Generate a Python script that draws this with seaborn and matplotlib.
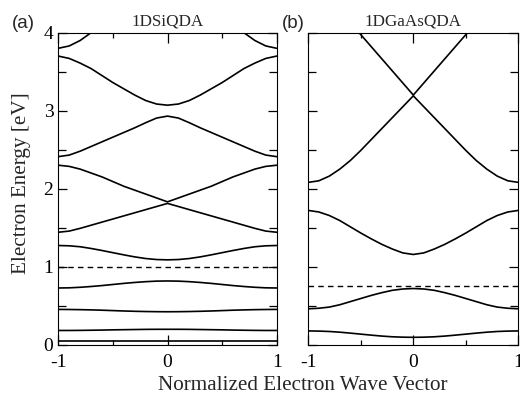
import numpy as np
import pandas as pd
import matplotlib
matplotlib.use("Agg")
import matplotlib.pyplot as plt
import seaborn as sns
from matplotlib.ticker import MultipleLocator

# ---------------- data ----------------
K = [-1.0, -0.9, -0.8, -0.7, -0.6, -0.5, -0.4, -0.3, -0.2, -0.1, 0.0,
     0.1, 0.2, 0.3, 0.4, 0.5, 0.6, 0.7, 0.8, 0.9, 1.0]

# Panel (a) 1DSiQDA bands [eV]
SI_B1 = [0.040] * 21
SI_B2 = [0.180, 0.180, 0.181, 0.183, 0.185, 0.188, 0.190, 0.192, 0.194, 0.195, 0.195,
         0.195, 0.194, 0.192, 0.190, 0.188, 0.185, 0.183, 0.181, 0.180, 0.180]
SI_B3 = [0.450, 0.449, 0.447, 0.444, 0.440, 0.435, 0.430, 0.426, 0.423, 0.421, 0.420,
         0.421, 0.423, 0.426, 0.430, 0.435, 0.440, 0.444, 0.447, 0.449, 0.450]
SI_B4 = [0.725, 0.727, 0.734, 0.744, 0.756, 0.770, 0.784, 0.796, 0.806, 0.813, 0.815,
         0.813, 0.806, 0.796, 0.784, 0.770, 0.756, 0.744, 0.734, 0.727, 0.725]
SI_B6 = [1.270, 1.266, 1.254, 1.232, 1.206, 1.178, 1.150, 1.124, 1.103, 1.090, 1.086,
         1.090, 1.103, 1.124, 1.150, 1.178, 1.206, 1.232, 1.254, 1.266, 1.270]
SI_B7 = [1.440, 1.455, 1.490, 1.530, 1.570, 1.610, 1.650, 1.690, 1.730, 1.770, 1.810,
         1.770, 1.730, 1.690, 1.650, 1.610, 1.570, 1.530, 1.490, 1.455, 1.440]
SI_B8 = [2.300, 2.285, 2.250, 2.200, 2.150, 2.090, 2.030, 1.980, 1.930, 1.880, 1.830,
         1.880, 1.930, 1.980, 2.030, 2.090, 2.150, 2.200, 2.250, 2.285, 2.300]
SI_B9 = [2.410, 2.430, 2.480, 2.540, 2.600, 2.660, 2.720, 2.780, 2.845, 2.905, 2.930,
         2.905, 2.845, 2.780, 2.720, 2.660, 2.600, 2.540, 2.480, 2.430, 2.410]
SI_B10 = [3.700, 3.670, 3.610, 3.540, 3.450, 3.360, 3.280, 3.200, 3.130, 3.085, 3.070,
          3.085, 3.130, 3.200, 3.280, 3.360, 3.450, 3.540, 3.610, 3.670, 3.700]
SI_B11 = [3.800, 3.830, 3.900, 4.000, 4.120, 4.240, 4.360, 4.470, 4.560, 4.620, 4.640,
          4.620, 4.560, 4.470, 4.360, 4.240, 4.120, 4.000, 3.900, 3.830, 3.800]
SI_FERMI = 1.00

# Panel (b) 1DGaAsQDA bands [eV]
GA_B1 = [0.174, 0.172, 0.167, 0.158, 0.146, 0.133, 0.120, 0.108, 0.099, 0.094, 0.092,
         0.094, 0.099, 0.108, 0.120, 0.133, 0.146, 0.158, 0.167, 0.172, 0.174]
GA_B2 = [0.458, 0.465, 0.480, 0.510, 0.550, 0.590, 0.630, 0.665, 0.695, 0.712, 0.718,
         0.712, 0.695, 0.665, 0.630, 0.590, 0.550, 0.510, 0.480, 0.465, 0.458]
GA_B3 = [1.720, 1.700, 1.655, 1.590, 1.510, 1.430, 1.355, 1.285, 1.225, 1.175, 1.155,
         1.175, 1.225, 1.285, 1.355, 1.430, 1.510, 1.590, 1.655, 1.700, 1.720]
GA_B4 = [2.080, 2.100, 2.160, 2.250, 2.360, 2.490, 2.630, 2.770, 2.910, 3.050, 3.190,
         3.050, 2.910, 2.770, 2.630, 2.490, 2.360, 2.250, 2.160, 2.100, 2.080]
GA_B5 = [4.550, 4.520, 4.420, 4.280, 4.130, 3.975, 3.820, 3.665, 3.510, 3.355, 3.200,
         3.355, 3.510, 3.665, 3.820, 3.975, 4.130, 4.280, 4.420, 4.520, 4.550]
GA_FERMI = 0.745

TITLES = ["1DSiQDA", "1DGaAsQDA"]
PANEL_TAGS = ["(a)", "(b)"]
XTICKS = [-1, 0, 1]
YTICKS = [0, 1, 2, 3, 4]

si_bands = [SI_B1, SI_B2, SI_B3, SI_B4, SI_B6, SI_B7, SI_B8, SI_B9, SI_B10, SI_B11]
ga_bands = [GA_B1, GA_B2, GA_B3, GA_B4, GA_B5]


def to_frame(bands):
    rows = []
    for i, b in enumerate(bands):
        for k, e in zip(K, b):
            rows.append({"k": k, "E": e, "band": i})
    return pd.DataFrame(rows)


sns.set_style("ticks")
plt.rcParams["font.family"] = ["Liberation Serif", "DejaVu Serif"]
plt.rcParams["axes.linewidth"] = 0.8

fig = plt.figure(figsize=(5.2, 3.95), dpi=100)
W, H = 520.0, 395.0
top, bot = 32.7, 344.5
ax_a = fig.add_axes([58.3 / W, (H - bot) / H, (276.7 - 58.3) / W, (bot - top) / H])
ax_b = fig.add_axes([308.3 / W, (H - bot) / H, (518.3 - 308.3) / W, (bot - top) / H])

for ax, bands, fermi, title in [(ax_a, si_bands, SI_FERMI, TITLES[0]),
                                 (ax_b, ga_bands, GA_FERMI, TITLES[1])]:
    df = to_frame(bands)
    sns.lineplot(data=df, x="k", y="E", units="band", estimator=None,
                 color="black", linewidth=1.2, sort=False, ax=ax, legend=False)
    ax.axhline(fermi, color="black", linewidth=1.0, linestyle=(0, (4, 3)))
    ax.set_xlim(-1, 1)
    ax.set_ylim(0, 4)
    ax.set_xlabel("")
    ax.set_ylabel("")
    ax.set_xticks(XTICKS)
    ax.set_xticklabels(["-1", "0", "1"])
    ax.xaxis.set_minor_locator(MultipleLocator(0.5))
    ax.set_yticks(YTICKS)
    ax.yaxis.set_minor_locator(MultipleLocator(0.5))
    ax.tick_params(which="both", direction="in", top=True, right=True,
                   width=0.9, colors="black")
    ax.tick_params(axis="x", which="major", length=7, labelsize=14, pad=7)
    ax.tick_params(axis="x", which="minor", length=3.5)
    ax.tick_params(axis="y", which="major", length=6.5, labelsize=14, pad=3.5)
    ax.tick_params(axis="y", which="minor", length=5.5)
    ax.set_title(title, fontsize=12.3, pad=5)
    for s in ax.spines.values():
        s.set_color("black")
        s.set_linewidth(0.8)

ax_a.set_yticklabels(["0", "1", "2", "3", "4"])
ax_b.tick_params(axis="y", labelleft=False)

fig.text(12 / W, (H - 24) / H, PANEL_TAGS[0], fontsize=13.5, ha="left", va="center",
         family=["Liberation Sans", "DejaVu Sans"])
fig.text(282 / W, (H - 24) / H, PANEL_TAGS[1], fontsize=13.5, ha="left", va="center",
         family=["Liberation Sans", "DejaVu Sans"])
fig.text(303 / W, (H - 390.5) / H, "Normalized Electron Wave Vector", fontsize=15.2,
         ha="center", va="baseline")
fig.text(21.5 / W, (H - 183) / H, "Electron Energy [eV]", fontsize=15.2,
         ha="center", va="center", rotation=90)

fig.savefig("out.png", dpi=100)
